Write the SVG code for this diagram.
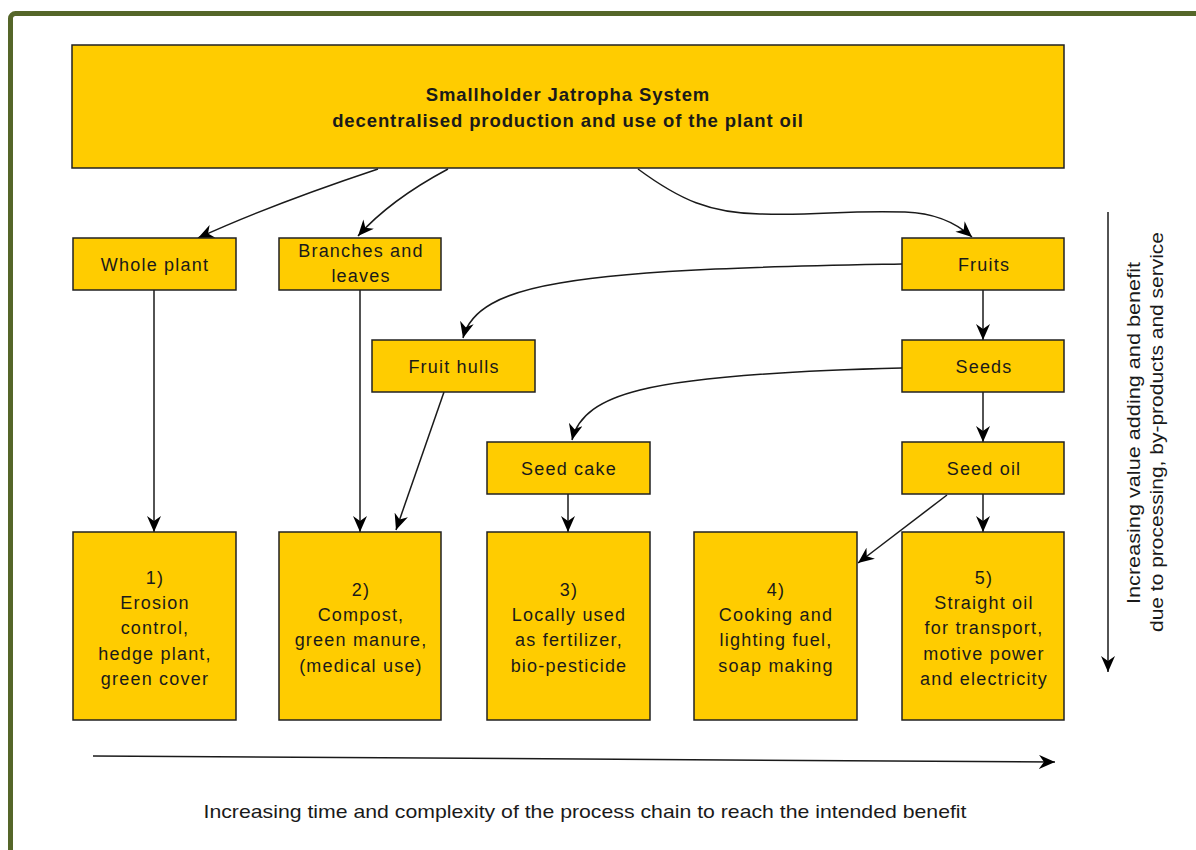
<svg xmlns="http://www.w3.org/2000/svg" width="1196" height="850" viewBox="0 0 1196 850">
<style>
.box{fill:#FFCC00;stroke:#222;stroke-width:1.5}
.t{font-family:"Liberation Sans",Arial,sans-serif;font-size:18px;fill:#1a1a1a;text-anchor:middle;letter-spacing:1.2px}
.b{font-weight:bold;font-size:18.5px;letter-spacing:0.9px}
.c{fill:none;stroke:#1a1a1a;stroke-width:1.5;marker-end:url(#ah)}
</style>
<defs>
<marker id="ah" viewBox="0 0 16 14" refX="16" refY="7" markerWidth="16" markerHeight="14" markerUnits="userSpaceOnUse" orient="auto">
<path d="M0,0 L16,7 L0,14 L5,7 z" fill="#000"/>
</marker>
</defs>
<rect x="0" y="0" width="1196" height="850" fill="#fff"/>
<rect x="10.5" y="13.5" width="1200" height="860" rx="5" fill="none" stroke="#556629" stroke-width="5"/>

<g id="connectors">
<path class="c" d="M378,169 Q270,205 198,238"/>
<path class="c" d="M448,169 Q390,200 358,236"/>
<path class="c" d="M638,169 C680,200 710,213 760,214 C820,216 840,210 905,212 C935,213 955,222 972,237"/>
<path class="c" d="M902,264 C800,266 650,268 560,283 C500,293 470,310 463,338"/>
<path class="c" d="M902,368 C820,370 700,375 640,390 C600,400 578,415 572,440"/>
<path class="c" d="M983,290 L983,340"/>
<path class="c" d="M983,392 L983,442"/>
<path class="c" d="M983,494 L983,532"/>
<path class="c" d="M947,495 L858,563"/>
<path class="c" d="M154,290 L154,532"/>
<path class="c" d="M360,290 L360,532"/>
<path class="c" d="M444,392 L396,530"/>
<path class="c" d="M568,494 L568,532"/>
<path class="c" d="M93,756 L1055,762"/>
<path class="c" d="M1108,212 L1108,672"/>
</g>

<g id="top"><rect class="box" x="72" y="45" width="992" height="123"/>
<text class="t b" x="568" y="101">Smallholder Jatropha System</text>
<text class="t b" x="568" y="127">decentralised production and use of the plant oil</text></g>

<g id="whole-plant"><rect class="box" x="73" y="238" width="163" height="52"/><text class="t" x="155" y="271">Whole plant</text></g>
<g id="branches"><rect class="box" x="279" y="238" width="162" height="52"/><text class="t" x="361" y="257">Branches and</text><text class="t" x="361" y="282">leaves</text></g>
<g id="fruits"><rect class="box" x="902" y="238" width="162" height="52"/><text class="t" x="984" y="271">Fruits</text></g>
<g id="fruit-hulls"><rect class="box" x="372" y="340" width="163" height="52"/><text class="t" x="454" y="373">Fruit hulls</text></g>
<g id="seeds"><rect class="box" x="902" y="340" width="162" height="52"/><text class="t" x="984" y="373">Seeds</text></g>
<g id="seed-cake"><rect class="box" x="487" y="442" width="163" height="52"/><text class="t" x="569" y="475">Seed cake</text></g>
<g id="seed-oil"><rect class="box" x="902" y="442" width="162" height="52"/><text class="t" x="984" y="475">Seed oil</text></g>

<g id="b1"><rect class="box" x="73" y="532" width="163" height="188"/>
<text class="t" x="155" y="584">1)</text><text class="t" x="155" y="609">Erosion</text><text class="t" x="155" y="634">control,</text><text class="t" x="155" y="660">hedge plant,</text><text class="t" x="155" y="685">green cover</text></g>
<g id="b2"><rect class="box" x="279" y="532" width="162" height="188"/>
<text class="t" x="361" y="596">2)</text><text class="t" x="361" y="621">Compost,</text><text class="t" x="361" y="646">green manure,</text><text class="t" x="361" y="672">(medical use)</text></g>
<g id="b3"><rect class="box" x="487" y="532" width="163" height="188"/>
<text class="t" x="569" y="596">3)</text><text class="t" x="569" y="621">Locally used</text><text class="t" x="569" y="646">as fertilizer,</text><text class="t" x="569" y="672">bio-pesticide</text></g>
<g id="b4"><rect class="box" x="694" y="532" width="163" height="188"/>
<text class="t" x="776" y="596">4)</text><text class="t" x="776" y="621">Cooking and</text><text class="t" x="776" y="646">lighting fuel,</text><text class="t" x="776" y="672">soap making</text></g>
<g id="b5"><rect class="box" x="902" y="532" width="162" height="188"/>
<text class="t" x="984" y="584">5)</text><text class="t" x="984" y="609">Straight oil</text><text class="t" x="984" y="634">for transport,</text><text class="t" x="984" y="660">motive power</text><text class="t" x="984" y="685">and electricity</text></g>

<g id="labels">
<text x="585" y="818" font-family="'Liberation Sans',Arial,sans-serif" font-size="19" fill="#1a1a1a" text-anchor="middle" textLength="763" lengthAdjust="spacingAndGlyphs">Increasing time and complexity of the process chain to reach the intended benefit</text>
<text transform="translate(1140,433) rotate(-90)" x="0" y="0" font-family="'Liberation Sans',Arial,sans-serif" font-size="18" fill="#1a1a1a" text-anchor="middle" textLength="342" lengthAdjust="spacingAndGlyphs">Increasing value adding and benefit</text>
<text transform="translate(1163,432) rotate(-90)" x="0" y="0" font-family="'Liberation Sans',Arial,sans-serif" font-size="18" fill="#1a1a1a" text-anchor="middle" textLength="400" lengthAdjust="spacingAndGlyphs">due to processing, by-products and service</text>
</g>
</svg>
